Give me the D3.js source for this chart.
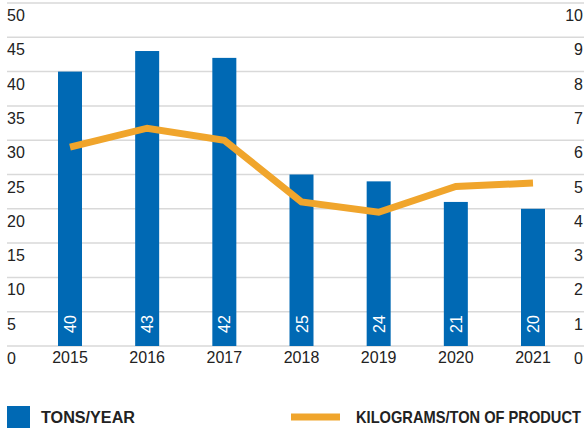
<!DOCTYPE html>
<html>
<head>
<meta charset="utf-8">
<script src="https://d3js.org/d3.v7.min.js"></script>
<style>
  body { margin: 0; background: #fff; }
  svg text { font-family: "Liberation Sans", Arial, sans-serif; }
</style>
</head>
<body>
<script>
// data
var years = ["2015", "2016", "2017", "2018", "2019", "2020", "2021"];
var tonsPerYear = [40, 43, 42, 25, 24, 21, 20];
var kgPerTon = [5.8, 6.35, 6.0, 4.2, 3.9, 4.65, 4.75];
var leftTicks = [0, 5, 10, 15, 20, 25, 30, 35, 40, 45, 50];
var rightTicks = [0, 1, 2, 3, 4, 5, 6, 7, 8, 9, 10];

var W = 586, H = 431;
var blue = "#0069b4", orange = "#f0a52c";

var svg = d3.select("body").append("svg")
    .attr("width", W)
    .attr("height", H);

var x = d3.scalePoint().domain(years).range([70, 533]);
var yL = d3.scaleLinear().domain([0, 50]).range([346, 3]);
var yR = d3.scaleLinear().domain([0, 10]).range([346, 3]);
var barW = 24;

// gridlines
svg.append("g").selectAll("line")
    .data(leftTicks)
    .enter().append("line")
    .attr("x1", 7).attr("x2", 584)
    .attr("y1", function(d) { return yL(d); })
    .attr("y2", function(d) { return yL(d); })
    .attr("stroke", "#d9d9d9")
    .attr("stroke-width", 1.5);

// left axis labels
svg.append("g").selectAll("text")
    .data(leftTicks)
    .enter().append("text")
    .attr("x", 7)
    .attr("y", function(d) { return yL(d) + 18; })
    .style("font-size", "16px")
    .attr("fill", "#222")
    .text(function(d) { return d; });

// right axis labels
svg.append("g").selectAll("text")
    .data(rightTicks)
    .enter().append("text")
    .attr("x", 583)
    .attr("text-anchor", "end")
    .attr("y", function(d) { return yR(d) + 18; })
    .style("font-size", "16px")
    .attr("fill", "#222")
    .text(function(d) { return d; });

// bars
svg.append("g").selectAll("rect")
    .data(tonsPerYear)
    .enter().append("rect")
    .attr("x", function(d, i) { return x(years[i]) - barW / 2; })
    .attr("y", function(d) { return yL(d); })
    .attr("width", barW)
    .attr("height", function(d) { return yL(0) - yL(d); })
    .attr("fill", blue);

// bar value labels (rotated)
svg.append("g").selectAll("text")
    .data(tonsPerYear)
    .enter().append("text")
    .attr("transform", function(d, i) {
        return "translate(" + (x(years[i]) + 6) + "," + (yL(0) - 13) + ") rotate(-90)";
    })
    .style("font-size", "16px")
    .attr("fill", "#fff")
    .text(function(d) { return d; });

// year labels
svg.append("g").selectAll("text")
    .data(years)
    .enter().append("text")
    .attr("x", function(d) { return x(d); })
    .attr("y", 363)
    .attr("text-anchor", "middle")
    .style("font-size", "16px")
    .attr("fill", "#222")
    .text(function(d) { return d; });

// line
var line = d3.line()
    .x(function(d, i) { return x(years[i]); })
    .y(function(d) { return yR(d); });

svg.append("path")
    .datum(kgPerTon)
    .attr("d", line)
    .attr("fill", "none")
    .attr("stroke", orange)
    .attr("stroke-width", 7);

// legend: squeeze text horizontally to fit given width
function legendText(label, x0, width) {
    var t = svg.append("text")
        .attr("y", 423)
        .style("font-size", "16px")
        .style("font-weight", "bold")
        .attr("fill", "#222")
        .text(label);
    var w = t.node().getComputedTextLength();
    t.attr("transform", "translate(" + x0 + ",0) scale(" + (width / w) + ",1)");
}

svg.append("rect")
    .attr("x", 7).attr("y", 406)
    .attr("width", 23).attr("height", 22)
    .attr("fill", blue);
legendText("TONS/YEAR", 41, 94);

svg.append("line")
    .attr("x1", 291).attr("x2", 340)
    .attr("y1", 417).attr("y2", 417)
    .attr("stroke", orange)
    .attr("stroke-width", 7);
legendText("KILOGRAMS/TON OF PRODUCT", 356, 225);
</script>
</body>
</html>
